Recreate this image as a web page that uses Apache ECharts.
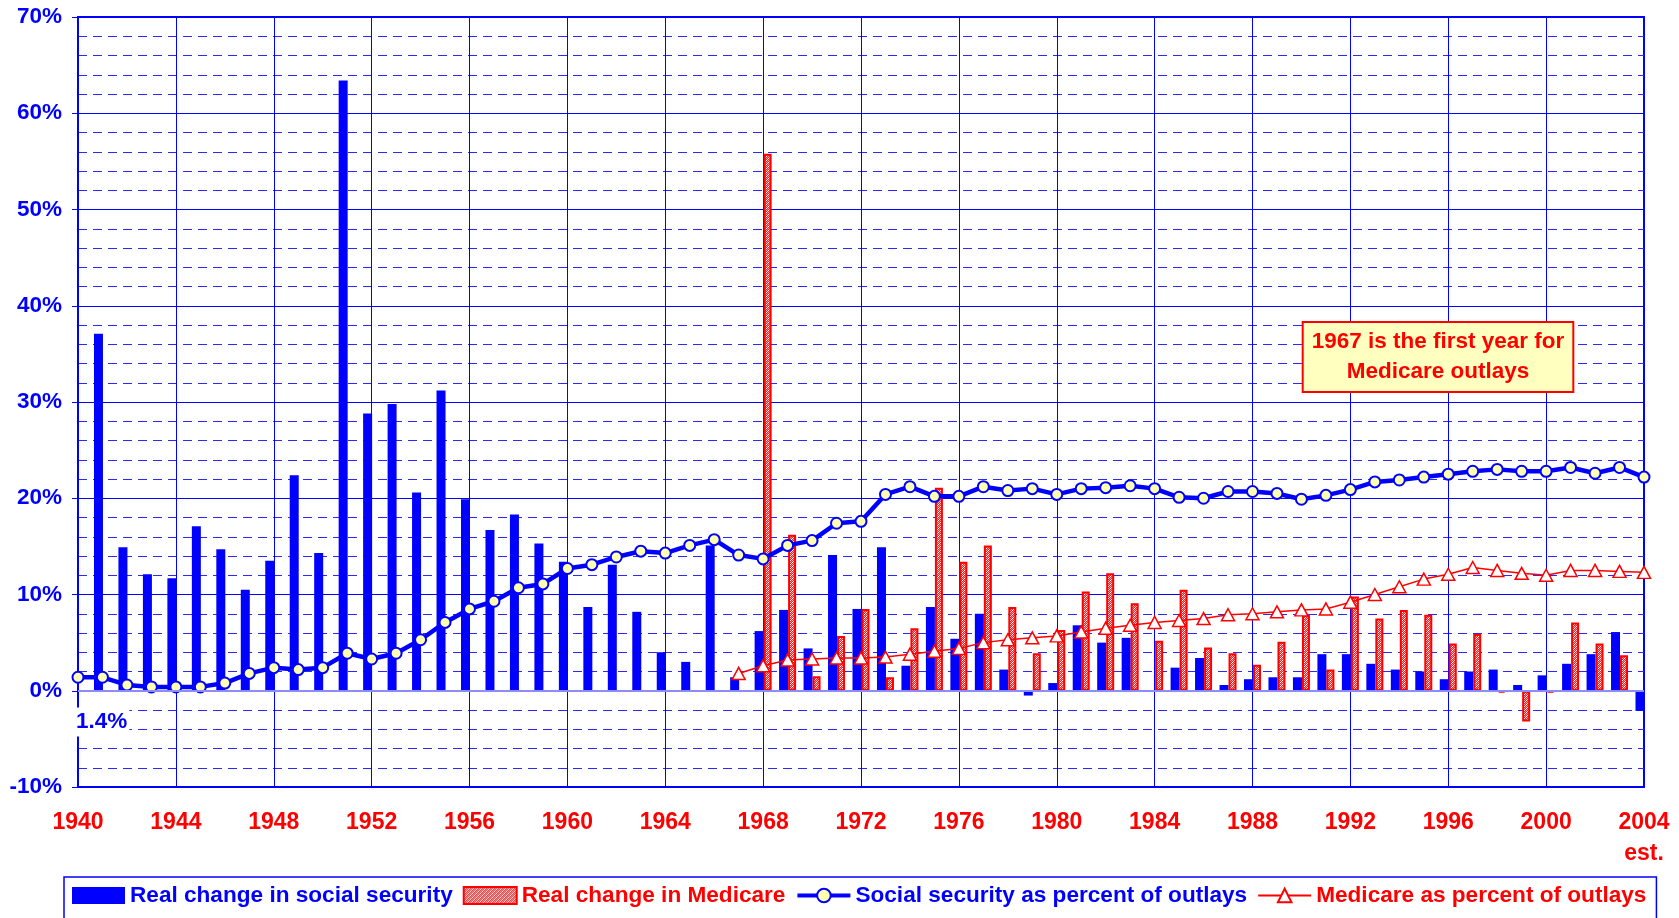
<!DOCTYPE html>
<html>
<head>
<meta charset="utf-8">
<script src="https://cdn.jsdelivr.net/npm/echarts@6/dist/echarts.min.js"></script>
<style>
  html, body { margin: 0; padding: 0; background: #fff; }
  #chart { width: 1679px; height: 918px; }
</style>
</head>
<body>
<div id="chart"></div>
<script>
// years on the x axis
var years = [];
for (var y = 1940; y <= 2004; y++) years.push(String(y));

// real change in social security (%), 1940..2004
var ssChange = [null, 37.1, 14.9, 12.1, 11.7, 17.1, 14.7, 10.5, 13.5, 22.4,
  14.3, 63.4, 28.8, 29.8, 20.6, 31.2, 19.9, 16.7, 18.3, 15.3,
  13.4, 8.7, 13.1, 8.2, 4.0, 3.0, 15.1, 1.4, 6.2, 8.4,
  4.4, 14.1, 8.5, 14.9, 2.6, 8.7, 5.4, 8.0, 2.2, -0.5,
  0.8, 6.8, 5.0, 5.5, 0, 2.4, 3.4, 0.6, 1.2, 1.4,
  1.4, 3.8, 3.8, 2.8, 2.2, 2.0, 1.2, 2.0, 2.2, 0.6,
  1.6, 2.8, 3.8, 6.1, -2.1];

// real change in Medicare (%), starts 1968
var medChange = [null, null, null, null, null, null, null, null, null, null,
  null, null, null, null, null, null, null, null, null, null,
  null, null, null, null, null, null, null, null, 55.8, 16.2,
  1.5, 5.7, 8.5, 1.4, 6.5, 21.1, 13.4, 15.1, 8.7, 3.9,
  6.3, 10.3, 12.2, 9.1, 5.2, 10.5, 4.5, 3.9, 2.7, 5.1,
  7.9, 2.2, 9.8, 7.5, 8.4, 7.9, 4.9, 5.9, -0.2, -3.2,
  -0.2, 7.1, 4.9, 3.7, null];

// social security as percent of outlays
var ssShare = [1.4, 1.4, 0.6, 0.4, 0.4, 0.4, 0.8, 1.8, 2.4, 2.2,
  2.4, 3.9, 3.3, 3.9, 5.3, 7.1, 8.5, 9.3, 10.7, 11.1,
  12.7, 13.1, 13.9, 14.5, 14.3, 15.1, 15.7, 14.1, 13.7, 15.1,
  15.6, 17.4, 17.6, 20.4, 21.2, 20.2, 20.2, 21.2, 20.8, 21.0,
  20.4, 21.0, 21.1, 21.3, 21.0, 20.1, 20.0, 20.7, 20.7, 20.5,
  19.9, 20.3, 20.9, 21.7, 21.9, 22.2, 22.5, 22.8, 23.0, 22.8,
  22.8, 23.2, 22.6, 23.2, 22.2];

// Medicare as percent of outlays, starts 1967
var medShare = [null, null, null, null, null, null, null, null, null, null,
  null, null, null, null, null, null, null, null, null, null,
  null, null, null, null, null, null, null, 1.8, 2.6, 3.2,
  3.3, 3.4, 3.4, 3.5, 3.8, 4.1, 4.4, 5.0, 5.3, 5.5,
  5.7, 6.1, 6.5, 6.8, 7.1, 7.3, 7.5, 7.9, 8.0, 8.2,
  8.4, 8.5, 9.2, 10.0, 10.8, 11.6, 12.1, 12.8, 12.5, 12.2,
  12.0, 12.5, 12.5, 12.4, 12.3];

var FONT = '"Liberation Sans", Arial, sans-serif';
var BLUE = '#0000ff';
var RED = '#ff0000';

// hatched fill for the Medicare bars
var hatch = document.createElement('canvas');
hatch.width = 4; hatch.height = 4;
var hc = hatch.getContext('2d');
hc.fillStyle = '#ffffff';
hc.fillRect(0, 0, 4, 4);
hc.fillStyle = '#ff2020';
for (var i = 0; i < 4; i++) {
  hc.fillRect(i, 3 - i, 1, 1);
  hc.fillRect(i, (5 - i) % 4, 1, 1);
}
hc.fillStyle = '#c8b4b4';
for (var j = 0; j < 4; j++) hc.fillRect(j, (4 - j) % 4, 1, 1);

var chart = echarts.init(document.getElementById('chart'));

var option = {
  animation: false,
  backgroundColor: '#ffffff',
  grid: {
    left: 78, right: 35, top: 17, bottom: 131,
    show: true, borderColor: BLUE, borderWidth: 2,
    containLabel: false, outerBoundsMode: 'none'
  },
  legend: {
    left: 64, top: 877,
    padding: [7, 10, 40, 8],
    borderColor: BLUE, borderWidth: 1.5,
    itemWidth: 53, itemHeight: 17, itemGap: 10,
    selectedMode: false,
    textStyle: { fontFamily: FONT, fontSize: 22.6, fontWeight: 'bold' },
    data: [
      { name: 'Real change in social security', icon: 'rect', textStyle: { color: BLUE } },
      { name: 'Real change in Medicare', icon: 'rect', textStyle: { color: RED } },
      { name: 'Social security as percent of outlays', textStyle: { color: BLUE },
        lineStyle: { width: 4 } },
      { name: 'Medicare as percent of outlays', textStyle: { color: RED },
        lineStyle: { width: 2 } }
    ]
  },
  xAxis: {
    type: 'category',
    data: years,
    boundaryGap: false,
    axisLine: { show: true, onZero: false, lineStyle: { color: BLUE, width: 2 } },
    axisTick: { show: false },
    axisLabel: {
      interval: 3,
      margin: 20,
      color: RED,
      fontFamily: FONT, fontSize: 23, fontWeight: 'bold',
      lineHeight: 31,
      formatter: function (v) { return v === '2004' ? '2004\nest.' : v; }
    },
    splitLine: { show: true, interval: 3, lineStyle: { color: BLUE, width: 1 } }
  },
  yAxis: {
    type: 'value',
    min: -10, max: 70, interval: 10,
    axisLine: { show: true, lineStyle: { color: BLUE, width: 2 } },
    axisTick: { show: true, length: 6, lineStyle: { color: BLUE } },
    axisLabel: {
      margin: 16,
      color: BLUE,
      fontFamily: FONT, fontSize: 22.5, fontWeight: 'bold',
      formatter: '{value}%'
    },
    splitLine: { show: true, lineStyle: { color: BLUE, width: 1 } },
    minorTick: { show: false, splitNumber: 5 },
    minorSplitLine: { show: true, lineStyle: { color: '#2a2aff', width: 1, type: [9, 6] } }
  },
  graphic: [
    {
      type: 'text', z: 100,
      x: 1438, y: 357,
      style: {
        text: '1967 is the first year for\nMedicare outlays',
        font: 'bold 22.5px ' + FONT,
        fill: RED,
        align: 'center', verticalAlign: 'middle',
        lineHeight: 30,
        backgroundColor: '#ffffc0',
        borderColor: RED, borderWidth: 2,
        padding: [4, 8]
      }
    },
    {
      type: 'text', z: 100,
      x: 74, y: 722,
      style: {
        text: '1.4%',
        font: 'bold 22.5px ' + FONT,
        fill: BLUE,
        align: 'left', verticalAlign: 'middle',
        backgroundColor: '#ffffff',
        padding: [3, 2]
      }
    }
  ],
  series: [
    {
      name: 'Real change in social security',
      type: 'bar',
      data: ssChange,
      barWidth: 9,
      barGap: '0%',
      itemStyle: { color: BLUE },
      markLine: {
        silent: true, symbol: 'none',
        label: { show: false },
        lineStyle: { color: '#8c8cff', width: 2, type: 'solid' },
        data: [{ yAxis: 0 }]
      }
    },
    {
      name: 'Real change in Medicare',
      type: 'bar',
      data: medChange,
      barWidth: 8,
      barGap: '0%',
      itemStyle: {
        color: { image: hatch, repeat: 'repeat' },
        borderColor: RED, borderWidth: 2
      }
    },
    {
      name: 'Social security as percent of outlays',
      type: 'line',
      data: ssShare,
      showAllSymbol: true,
      symbol: 'circle',
      symbolSize: 11,
      lineStyle: { color: BLUE, width: 4.5 },
      itemStyle: { color: '#ffffb0', borderColor: BLUE, borderWidth: 2 }
    },
    {
      name: 'Medicare as percent of outlays',
      type: 'line',
      data: medShare,
      showAllSymbol: true,
      symbol: 'triangle',
      symbolSize: [13, 12],
      lineStyle: { color: RED, width: 1.5 },
      itemStyle: { color: '#ffffff', borderColor: RED, borderWidth: 1.5 }
    }
  ]
};

chart.setOption(option);
</script>
</body>
</html>
